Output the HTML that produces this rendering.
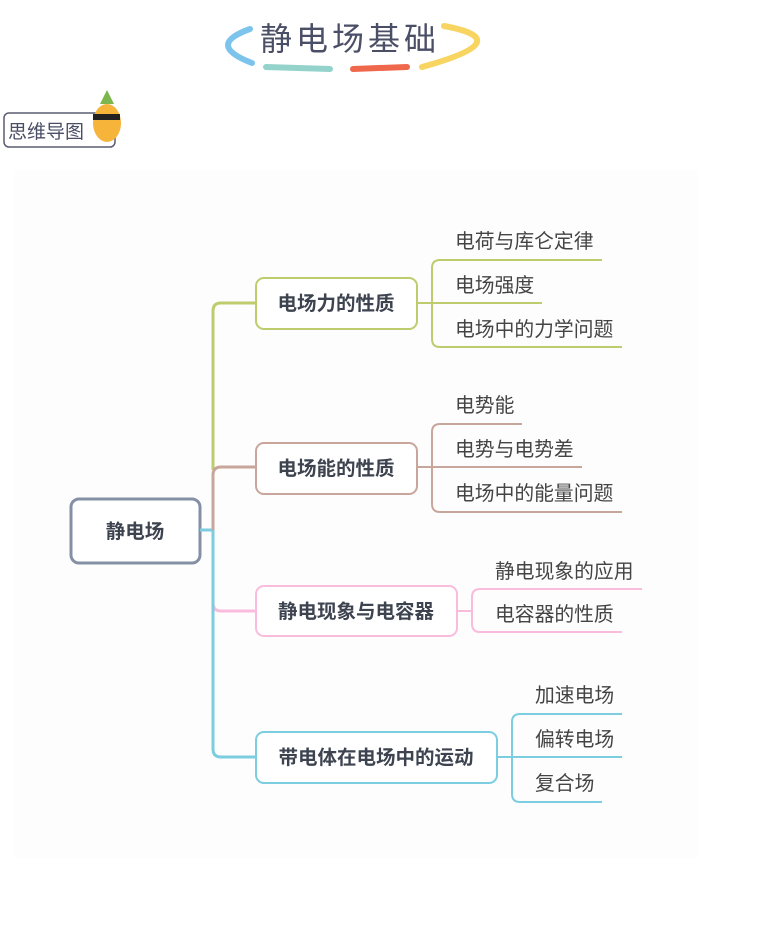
<!DOCTYPE html>
<html><head><meta charset="utf-8"><style>
body{margin:0;background:#fff;}
svg{display:block;font-family:"Liberation Sans","Noto Sans CJK SC",sans-serif;}
</style></head><body>
<svg width="767" height="932" viewBox="0 0 767 932">
<rect x="14" y="170" width="684" height="688" fill="#fdfdfd"/>
<!-- title -->
<path d="M250 29 Q205 45 252 63" stroke="#7dc4ec" stroke-width="6" fill="none" stroke-linecap="round"/>
<path d="M266 67 L330 69" stroke="#93d3cc" stroke-width="6" stroke-linecap="round"/>
<path d="M353 69 L407 67" stroke="#f0684c" stroke-width="6" stroke-linecap="round"/>
<path d="M444 26 Q520 40 422 67" stroke="#f7d560" stroke-width="6" fill="none" stroke-linecap="round"/>
<text x="350" y="50" font-size="32" fill="#4a4e66" text-anchor="middle" letter-spacing="4">静电场基础</text>
<rect x="4" y="113" width="111" height="34" rx="5" fill="#fff" stroke="#5a5c70" stroke-width="1.5"/>
<text x="8" y="138" font-size="19" fill="#4a4e66">思维导图</text>
<ellipse cx="107" cy="123" rx="14" ry="19" fill="#f7b43a"/>
<path d="M100 104 L107 90 L114 104Z" fill="#7db64c"/>
<rect x="93" y="114" width="27" height="6" fill="#222"/>
<!-- root -->
<rect x="71" y="499" width="129" height="64" rx="8" fill="#fff" stroke="#8491a5" stroke-width="3"/>
<text x="135" y="538" font-size="19.5" font-weight="bold" fill="#3d4450" text-anchor="middle">静电场</text>
<!-- trunk -->
<path d="M200 530 H213" stroke="#7ccde0" stroke-width="3"/>
<path d="M213 470 V311 Q213 303 221 303 H256" stroke="#bfcc6e" stroke-width="3" fill="none"/>
<path d="M213 530 V475 Q213 467 221 467 H256" stroke="#c9a69c" stroke-width="3" fill="none"/>
<path d="M213 530 V603 Q213 611 221 611 H256" stroke="#f9bcdc" stroke-width="3" fill="none"/>
<path d="M213 530 V749 Q213 757 221 757 H256" stroke="#7ccde0" stroke-width="3" fill="none"/>
<!-- branch boxes -->
<g font-size="19.5" font-weight="bold" fill="#3d4450" text-anchor="middle">
<rect x="256" y="278" width="161" height="51" rx="8" fill="#fff" stroke="#bfcc6e" stroke-width="2"/>
<text x="336" y="310">电场力的性质</text>
<rect x="256" y="443" width="161" height="51" rx="8" fill="#fff" stroke="#c9a69c" stroke-width="2"/>
<text x="336" y="475">电场能的性质</text>
<rect x="256" y="586" width="201" height="50" rx="8" fill="#fff" stroke="#f9bcdc" stroke-width="2"/>
<text x="356" y="618">静电现象与电容器</text>
<rect x="256" y="732" width="241" height="51" rx="8" fill="#fff" stroke="#7ccde0" stroke-width="2"/>
<text x="376" y="764">带电体在电场中的运动</text>
</g>
<!-- leaves -->
<g fill="none" stroke-width="2">
<path d="M417 303 H542 M602 260 H440 Q432 260 432 268 V339 Q432 347 440 347 H622" stroke="#bfcc6e"/>
<path d="M417 467 H582 M522 424 H440 Q432 424 432 432 V504 Q432 512 440 512 H622" stroke="#c9a69c"/>
<path d="M457 611 H472 M642 589 H480 Q472 589 472 597 V624 Q472 632 480 632 H622" stroke="#f9bcdc"/>
<path d="M497 757 H622 M622 714 H520 Q512 714 512 722 V794 Q512 802 520 802 H602" stroke="#7ccde0"/>
</g>
<g font-size="19.8" fill="#444">
<text x="455" y="248">电荷与库仑定律</text>
<text x="455" y="292">电场强度</text>
<text x="455" y="336">电场中的力学问题</text>
<text x="455" y="412">电势能</text>
<text x="455" y="456">电势与电势差</text>
<text x="455" y="500">电场中的能量问题</text>
<text x="495" y="578">静电现象的应用</text>
<text x="495" y="621">电容器的性质</text>
<text x="535" y="702">加速电场</text>
<text x="535" y="746">偏转电场</text>
<text x="535" y="790">复合场</text>
</g>
</svg>
</body></html>
